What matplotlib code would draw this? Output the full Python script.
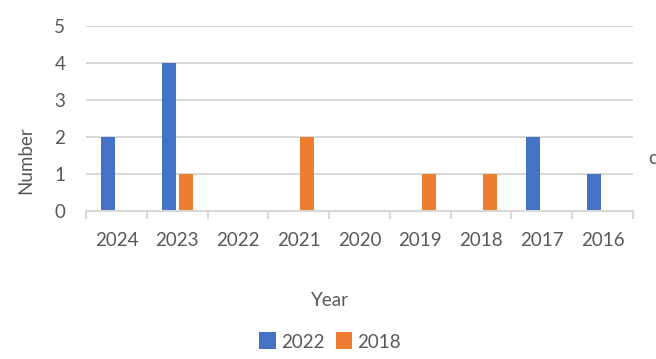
import matplotlib
matplotlib.use("Agg")
import matplotlib.pyplot as plt
import numpy as np

categories = ["2024", "2023", "2022", "2021", "2020", "2019", "2018", "2017", "2016"]
series_names = ["2022", "2018"]
values_2022 = [2, 4, 0, 0, 0, 0, 0, 2, 1]
values_2018 = [0, 1, 0, 2, 0, 1, 1, 0, 0]
y_ticks = [0, 1, 2, 3, 4, 5]

plt.rcParams['font.family'] = ['Lato', 'DejaVu Sans']
text_color = "#595959"
grid_color = "#d9d9d9"
blue = "#4472C4"
orange = "#ED7D31"
fs = 13.5

W, H = 656, 359
fig = plt.figure(figsize=(W / 100, H / 100), dpi=100)
ax = fig.add_axes([86 / W, 1 - 211 / H, (633 - 86) / W, (211 - 26) / H])

n = len(categories)
x = np.arange(n)
bw = 0.23
gap = 0.05
ax.bar(x - (bw + gap) / 2, values_2022, width=bw, color=blue, label=series_names[0], zorder=3)
ax.bar(x + (bw + gap) / 2, values_2018, width=bw, color=orange, label=series_names[1], zorder=3)

ax.set_xlim(-0.5, n - 0.5)
ax.set_ylim(0, 5)
ax.set_yticks(y_ticks)
ax.set_xticks(x)
ax.set_xticklabels(categories)
ax.set_xticks(np.arange(-0.5, n, 1.0), minor=True)
ax.tick_params(axis='x', which='major', length=0, pad=15, labelsize=fs, labelcolor=text_color)
ax.tick_params(axis='x', which='minor', length=6, width=1.5, color=grid_color, direction='out')
ax.tick_params(axis='y', length=0, pad=15, labelsize=fs, labelcolor=text_color)

ax.yaxis.grid(True, color=grid_color, linewidth=1.5, zorder=0)
ax.set_axisbelow(True)
for s in ["top", "right", "left"]:
    ax.spines[s].set_visible(False)
ax.spines["bottom"].set_color(grid_color)
ax.spines["bottom"].set_linewidth(1.5)
ax.spines["bottom"].set_zorder(4)

fig.text(26 / W, 1 - 160 / H, "Number", rotation=90, ha='center', va='center', fontsize=fs, color=text_color)
fig.text(330 / W, 1 - 300 / H, "Year", ha='center', va='center', fontsize=fs, color=text_color)
fig.text(648 / W, 1 - 158 / H, "c", ha='left', va='center', fontsize=fs, color=text_color)

fig.legend(loc='center', bbox_to_anchor=(330 / W, 1 - 343 / H), ncol=2, frameon=False,
           fontsize=fs, labelcolor=text_color, handlelength=0.75, handleheight=0.75,
           handletextpad=0.4, columnspacing=0.6)
for h in fig.legends[0].legend_handles:
    h.set_height(12)
    h.set_width(12)

fig.savefig("out.png", dpi=100)
